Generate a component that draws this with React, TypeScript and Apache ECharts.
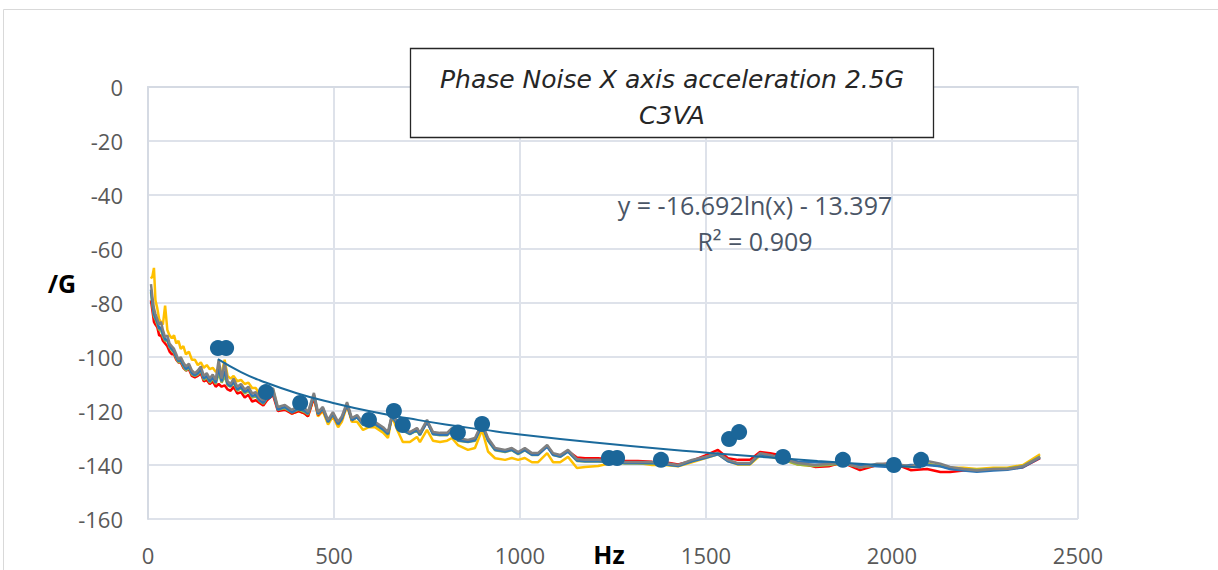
import React, { useEffect, useRef } from "react";
import * as echarts from "echarts";

const hz = [
  8, 12, 16, 20, 25, 30, 35, 40, 46, 52,
  58, 64, 70, 76, 82, 88, 95, 102, 110, 118,
  126, 134, 142, 150, 158, 166, 174, 182, 190, 198,
  206, 214, 222, 230, 240, 250, 260, 270, 280, 290,
  300, 310, 320, 336, 349, 368, 387, 405, 422, 430,
  446, 457, 470, 484, 497, 511, 521, 535, 548, 562,
  578, 594, 610, 632, 645, 656, 670, 685, 704, 723,
  731, 750, 766, 785, 804, 817, 833, 860, 879, 898,
  914, 933, 960, 978, 995, 1013, 1032, 1048, 1073, 1089,
  1108, 1129, 1153, 1175, 1210, 1245, 1282, 1317, 1355, 1390,
  1425, 1462, 1497, 1532, 1559, 1586, 1618, 1645, 1672, 1704,
  1747, 1793, 1830, 1866, 1914, 1960, 2003, 2050, 2094, 2130,
  2156, 2192, 2228, 2272, 2310, 2352, 2398,
];

const yellowVals = [
  -71, -70, -67, -79, -82, -86, -87, -88, -81, -90,
  -92, -93, -92, -95, -94, -97, -96, -99, -98, -101,
  -101, -103, -102, -104, -103, -104.5, -104, -105.5, -105, -106,
  -101, -107, -108, -107, -109, -108.5, -110, -109.5, -111.5, -111.5,
  -114, -114.5, -115, -112, -119, -119, -121, -120, -121, -122,
  -115, -122, -120, -125, -122, -126, -124, -118, -124, -124,
  -127, -126, -126, -128, -130, -122, -127, -131.5, -131.5, -129.6,
  -131.5, -127, -131, -131.5, -131, -130, -132.6, -134.4, -133.7, -127,
  -135, -137.5, -138.1, -137.4, -138.1, -137.4, -139, -139, -135.6, -139,
  -139, -137, -141.1, -140.7, -140.4, -139.3, -139, -139.3, -140, -140,
  -140.5, -139, -137.5, -136, -138.5, -139.8, -139.8, -136.5, -137, -138,
  -139.8, -140.5, -140, -139.5, -140.5, -140, -140.2, -140.8, -139.5, -140.5,
  -141, -141, -141.5, -141, -141, -140, -136,
];

const redVals = [
  -79, -83, -87, -88, -89, -92, -92, -94, -95, -96,
  -98, -99, -99, -101, -102, -102, -104, -105, -104.5, -107,
  -107.5, -107, -106, -109, -108.5, -110, -109, -111, -110, -111,
  -110.5, -112, -112.5, -111, -113.5, -113, -115, -114, -116.5, -116,
  -117, -118, -116, -114, -120, -119.5, -121, -120, -121, -122,
  -115, -121.5, -119.5, -124, -121.5, -125, -123, -117.5, -123.5, -122,
  -125, -125, -124.5, -126.5, -128.5, -122, -125, -127, -128, -126.5,
  -128.5, -124, -128, -128.5, -128.5, -126.5, -130.5, -131, -130.5, -125,
  -130.5, -134, -134.8, -134, -135.5, -134, -135.8, -136, -133, -136,
  -136.5, -134.8, -137.2, -137.5, -137.5, -138, -138.5, -138.5, -138.8, -139,
  -139.8, -138.5, -136.5, -134.4, -137.5, -138.1, -138.1, -135.2, -135.6, -136.5,
  -139, -140.7, -140.5, -139, -141.9, -140, -139.3, -141.9, -141.5, -142.6,
  -142.6, -142, -142, -141.8, -141.5, -140.8, -137.5,
];

const greenVals = [
  -76, -81, -85, -86, -88, -90, -90, -92.5, -94, -94,
  -96.5, -97.5, -98.5, -100.5, -102, -101.5, -103.5, -105, -104, -106.5,
  -107, -106.5, -105, -108.5, -107.5, -109.5, -108, -110, -106, -109.5,
  -107, -110.5, -111, -109.5, -112.5, -111.5, -113.5, -112.5, -115, -114.5,
  -116.3, -117.3, -115.2, -112.8, -119.5, -119, -120.5, -119.5, -120.5, -121.3,
  -114.3, -121.3, -119.3, -124.2, -121.3, -125, -123, -117.3, -123.5, -122.3,
  -125.2, -125, -125, -127, -128.7, -122, -125.2, -127.3, -128.6, -127.2,
  -129, -123.8, -128.6, -129, -129, -127.2, -131, -131.5, -131, -125.3,
  -131, -134.5, -135.2, -134.5, -136, -134.5, -136.3, -136.3, -132.8, -136.3,
  -137, -135, -138.5, -138.7, -138.7, -139, -139.4, -139.4, -139.5, -139.8,
  -140.3, -138.4, -137.2, -135.8, -138.4, -139.6, -139.6, -136, -136.6, -137.8,
  -139.8, -140.4, -140, -139.4, -140.8, -140.2, -140, -140.6, -139.6, -140.3,
  -141.2, -141.5, -141.8, -141.5, -141.3, -140.4, -136.8,
];

const blueVals = [
  -75, -80, -84, -85.5, -87, -89.5, -89, -91.5, -93.5, -93.5,
  -96, -97, -98, -100, -101.5, -101, -103, -104.5, -103.5, -106,
  -106.8, -106, -104.5, -108, -107, -109, -107.5, -109.5, -104, -109,
  -105, -110, -110.8, -109, -112, -111, -113, -112, -114.5, -114,
  -116, -117, -115, -112.5, -119.5, -118.5, -120.5, -119, -120, -121,
  -114, -121, -119, -124, -121, -124.8, -122.8, -117.5, -123.3, -122.3,
  -125, -124.8, -124.8, -126.8, -128.5, -121.8, -124.8, -127, -128.5, -127,
  -128.8, -124, -128.5, -128.8, -128.8, -127, -130.8, -131.4, -130.8, -125.2,
  -130.8, -134.4, -135, -134.4, -135.8, -134.4, -136.2, -136.2, -133.2, -136.2,
  -136.9, -135, -138.3, -138.6, -138.6, -138.8, -139.3, -139.3, -139.3, -139.7,
  -140.4, -138.6, -137.4, -136, -138.6, -139.6, -139.6, -136, -136.8, -137.8,
  -138.8, -139, -139.2, -139.5, -140, -140.5, -140.8, -140, -140, -140.5,
  -141.5, -142, -142.5, -142, -141.8, -140.8, -137.3,
];

const grayVals = [
  -73, -78, -82, -84, -86, -88, -87, -90, -92.6, -92,
  -95, -96, -97, -99, -101, -100, -102, -103.5, -102.5, -105,
  -106, -105, -103.5, -107, -106, -108, -106.5, -108.5, -101, -108,
  -102, -109, -110, -108, -111, -110, -112, -111, -113.5, -113,
  -115, -116, -114, -111.5, -118.5, -117.8, -119.6, -118, -119, -120.4,
  -113.3, -120.4, -118.5, -123.3, -120.4, -124, -122, -116.7, -122.6, -121.5,
  -124.4, -124, -124, -126, -127.8, -121, -124, -126.3, -127.8, -126.3,
  -128.1, -123.3, -127.8, -128.1, -128.1, -126.3, -130, -130.7, -130, -124.4,
  -130, -133.7, -134.4, -133.7, -135.2, -133.7, -135.6, -135.6, -132.6, -135.6,
  -136.3, -134.4, -137.8, -138.1, -138.1, -138.3, -138.9, -138.9, -138.9, -139.3,
  -140, -138.1, -137, -135.6, -138.1, -139.3, -139.3, -135.6, -136.3, -137.4,
  -139.3, -140, -139.5, -138.9, -141, -139.5, -139.5, -140.5, -138.5, -139.5,
  -140.7, -141.5, -142, -141.5, -141.5, -140.5, -137,
];

const scatterX = [188, 210, 317, 409, 594, 661, 685, 833, 898, 1239, 1261, 1379, 1562, 1589, 1707, 1868, 2005, 2078];
const scatterY = [-96.7, -96.7, -113, -117, -123.3, -120, -125.2, -128, -124.8, -137.4, -137.4, -138.1, -130.4, -127.8, -137, -138.1, -140, -138.1];

const trendX = [188, 250, 300, 400, 500, 600, 700, 800, 900, 1000, 1200, 1400, 1600, 1800, 2000, 2078];
const trendY = [-100.8, -105.6, -108.6, -113.4, -117.1, -120.2, -122.7, -125.0, -126.9, -128.7, -131.7, -134.3, -136.5, -138.5, -140.3, -140.9];

const xTicks = { min: 0, max: 2500, interval: 500 };
const yTicks = { min: -160, max: 0, interval: 20 };

const titleLines = ["Phase Noise X axis acceleration 2.5G", "C3VA"];
const equationText = "y = -16.692ln(x) - 13.397";
const r2Text = "R² = 0.909";

const zip = (xs: number[], ys: number[]) => xs.map((x, i) => [x, ys[i]]);

export default function App() {
  const ref = useRef<HTMLDivElement>(null);
  useEffect(() => {
    if (!ref.current) return;
    const chart = echarts.init(ref.current, undefined, { renderer: "svg" });
    const font = "'Open Sans', 'Segoe UI', sans-serif";
    const titleFont = "italic 25px 'DejaVu Sans', sans-serif";
    const lineSeries = (name: string, vals: number[], color: string) => ({
      name,
      type: "line",
      data: zip(hz, vals),
      showSymbol: false,
      symbol: "none",
      lineStyle: { color, width: 2.5 },
      itemStyle: { color },
      z: 2,
    });
    chart.setOption({
      animation: false,
      backgroundColor: "#ffffff",
      grid: { left: 148, right: 140, top: 87, bottom: 51 },
      xAxis: {
        type: "value",
        min: xTicks.min,
        max: xTicks.max,
        interval: xTicks.interval,
        axisLine: { show: true, lineStyle: { color: "#D5DAE3", width: 2 } },
        axisTick: { show: false },
        axisLabel: {
          color: "#595959",
          fontSize: 22,
          fontFamily: font,
          margin: 25,
          formatter: (v: number) => String(v),
        },
        splitLine: { show: true, lineStyle: { color: "#DEE2EA", width: 2 } },
      },
      yAxis: {
        type: "value",
        min: yTicks.min,
        max: yTicks.max,
        interval: yTicks.interval,
        axisLine: { show: true, lineStyle: { color: "#D5DAE3", width: 2 } },
        axisTick: { show: false },
        axisLabel: {
          color: "#595959",
          fontSize: 22,
          fontFamily: font,
          margin: 25,
          formatter: (v: number) => String(v),
        },
        splitLine: { show: true, lineStyle: { color: "#DEE2EA", width: 2 } },
      },
      series: [
        lineSeries("Yellow", yellowVals, "#FFC000"),
        lineSeries("Red", redVals, "#FF0000"),
        lineSeries("Green", greenVals, "#92B24A"),
        lineSeries("Blue", blueVals, "#2E75B6"),
        lineSeries("Gray", grayVals, "#808080"),
        {
          name: "Trend",
          type: "line",
          data: zip(trendX, trendY),
          smooth: true,
          showSymbol: false,
          symbol: "none",
          lineStyle: { color: "#1B6A9C", width: 2 },
          z: 3,
        },
        {
          name: "Points",
          type: "scatter",
          data: zip(scatterX, scatterY),
          symbolSize: 16,
          itemStyle: { color: "#1B6699", opacity: 1 },
          z: 4,
        },
      ],
      graphic: [
        {
          type: "rect",
          shape: { x: 3.5, y: 9.5, width: 1240, height: 600 },
          style: { fill: "none", stroke: "#D9D9D9", lineWidth: 1 },
          silent: true,
          z: 1,
        },
        {
          type: "rect",
          shape: { x: 410.5, y: 48.5, width: 523, height: 89 },
          style: { fill: "#ffffff", stroke: "#262626", lineWidth: 1.3 },
          z: 10,
        },
        {
          type: "text",
          x: 672,
          y: 79,
          style: {
            text: titleLines[0],
            fill: "#262626",
            font: titleFont,
            textAlign: "center",
            textVerticalAlign: "middle",
          },
          z: 11,
        },
        {
          type: "text",
          x: 672,
          y: 115,
          style: {
            text: titleLines[1],
            fill: "#262626",
            font: titleFont,
            textAlign: "center",
            textVerticalAlign: "middle",
          },
          z: 11,
        },
        {
          type: "text",
          x: 755,
          y: 205,
          style: {
            text: equationText,
            fill: "#4A5566",
            font: `25px ${font}`,
            textAlign: "center",
            textVerticalAlign: "middle",
          },
          z: 11,
        },
        {
          type: "text",
          x: 755,
          y: 241,
          style: {
            text: r2Text,
            fill: "#4A5566",
            font: `25px ${font}`,
            textAlign: "center",
            textVerticalAlign: "middle",
          },
          z: 11,
        },
        {
          type: "text",
          x: 62,
          y: 283,
          style: {
            text: "/G",
            fill: "#000000",
            font: `bold 25px ${font}`,
            textAlign: "center",
            textVerticalAlign: "middle",
          },
          z: 11,
        },
        {
          type: "text",
          x: 609,
          y: 554,
          style: {
            text: "Hz",
            fill: "#000000",
            font: `bold 25px ${font}`,
            textAlign: "center",
            textVerticalAlign: "middle",
          },
          z: 11,
        },
      ],
    });
    return () => chart.dispose();
  }, []);
  return (
    <div
      ref={ref}
      style={{ position: "fixed", left: 0, top: 0, width: 1218, height: 570 }}
    />
  );
}
